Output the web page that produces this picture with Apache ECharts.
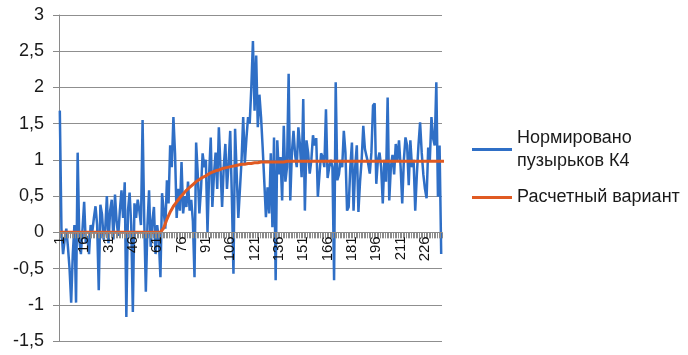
<!DOCTYPE html>
<html>
<head>
<meta charset="utf-8">
<script src="https://cdn.jsdelivr.net/npm/echarts@6/dist/echarts.min.js"></script>
<style>html,body{margin:0;padding:0;background:#fff;}#c{width:688px;height:355px;}</style>
</head>
<body>
<div id="c"></div>
<script>
var categoryCount = 236;
var categories = [];
for (var i = 1; i <= categoryCount; i++) categories.push(String(i));

var seriesNames = ['Нормировано пузырьков К4', 'Расчетный вариант'];

var measured = [
 1.68, 0.05, -0.3, -0.1, 0.05, -0.2, -0.5, -0.97, -0.3, 0.1,
 -0.97, 1.1, -0.1, -0.3, 0.05, 0.42, -0.15, -0.05, -0.3, 0.1,
 0.0, 0.2, 0.36, 0.1, -0.8, 0.38, 0.25, -0.1, 0.05, 0.5,
 -0.15, 0.3, 0.45, -0.1, 0.52, 0.15, -0.05, 0.3, 0.58, 0.2,
 0.69, -1.17, 0.3, 0.55, 0.1, -1.1, 0.4, 0.2, 0.45, 0.3,
 0.1, 1.55, 0.2, -0.82, 0.1, 0.58, -0.2, 0.15, 0.35, -0.3,
 0.1, -0.1, -0.62, 0.54, 0.3, 0.05, 0.72, 0.4, 1.2, 0.9,
 1.59, 1.09, 0.2, 0.6, 0.3, 0.97, 0.26, 0.5, 0.35, 0.7,
 0.3, 0.45, 0.15, -0.62, 1.24, 0.8, 0.26, 0.6, 1.09, 0.9,
 1.0, 0.0, 0.8, 1.31, 0.35, 0.8, 1.1, 0.6, 1.45, 0.9,
 0.35, 0.9, 1.22, 0.6, 0.95, 1.4, 0.5, -0.57, 1.43, 0.8,
 0.2, 0.6, 1.0, 1.59, 0.95, 1.3, 1.59, 1.5, 2.0, 2.64,
 1.68, 2.44, 1.45, 1.9, 1.59, 1.17, 0.7, 0.21, 0.62, 0.26,
 1.09, 0.07, 1.31, -0.66, 1.27, 0.8, 1.04, 0.44, 1.47, 0.7,
 0.9, 2.19, 0.44, 1.1, 1.4, 1.07, 0.9, 1.45, 1.2, 0.76,
 1.84, 0.3, 1.27, 1.1, 0.81, 1.0, 1.34, 1.2, 1.3, 0.49,
 0.8, 1.09, 1.04, 0.9, 1.7, 0.75, 0.9, 1.0, 0.9, -0.66,
 2.07, 0.72, 0.8, 1.0, 0.9, 1.4, 1.1, 0.3, 0.35, 0.9,
 1.24, 0.3, 0.9, 1.2, 0.28, 0.7, 1.0, 1.47, 1.15, 1.05,
 0.95, 0.81, 1.1, 1.75, 1.78, 0.67, 1.0, 1.1, 0.9, 0.4,
 1.0, 0.7, 1.86, 0.44, 0.9, 1.07, 0.8, 1.22, 1.0, 1.27,
 0.9, 0.4, 1.0, 1.31, 1.2, 0.65, 1.27, 0.9, 1.0, 0.3,
 0.8, 1.2, 1.52, 1.1, 0.8, 0.6, 0.47, 1.17, 1.0, 1.59,
 1.3, 1.2, 2.07, 0.49, 1.2, -0.3
];

var calculated = [
 0,0,0,0,0,0,0,0,0,0,
 0,0,0,0,0,0,0,0,0,0,
 0,0,0,0,0,0,0,0,0,0,
 0,0,0,0,0,0,0,0,0,0,
 0,0,0,0,0,0,0,0,0,0,
 0,0,0,0,0,0,0,0,0,0,
 0,0,0,0,0.06,0.12,0.18,0.23,0.28,0.32,
 0.36,0.39,0.42,0.45,0.48,0.50,0.53,0.55,0.58,0.60,
 0.62,0.64,0.66,0.68,0.70,0.71,0.73,0.74,0.76,0.77,
 0.78,0.80,0.81,0.82,0.83,0.84,0.85,0.86,0.86,0.87,
 0.88,0.88,0.89,0.90,0.90,0.91,0.91,0.92,0.92,0.93,
 0.93,0.93,0.94,0.94,0.94,0.95,0.95,0.95,0.95,0.96,
 0.96,0.96,0.96,0.96,0.97,0.97,0.97,0.97,0.97,0.97,
 0.97,0.97,0.97,0.97,0.97,0.97,0.97,0.97,0.97,0.97,
 0.98,0.98,0.98,0.98,0.98,0.98,0.98,0.98,0.98,0.98,
 0.98,0.98,0.98,0.98,0.98,0.98,0.98,0.98,0.98,0.98,
 0.98,0.98,0.98,0.98,0.98,0.98,0.98,0.98,0.98,0.98,
 0.98,0.98,0.98,0.98,0.98,0.98,0.98,0.98,0.98,0.98,
 0.98,0.98,0.98,0.98,0.98,0.98,0.98,0.98,0.98,0.98,
 0.98,0.98,0.98,0.98,0.98,0.98,0.98,0.98,0.98,0.98,
 0.98,0.98,0.98,0.98,0.98,0.98,0.98,0.98,0.98,0.98,
 0.98,0.98,0.98,0.98,0.98,0.98,0.98,0.98,0.98,0.98,
 0.98,0.98,0.98,0.98,0.98,0.98,0.98,0.98,0.98,0.98,
 0.98,0.98,0.98,0.98,0.98,0.98,0.98,0.98,0.98,0.98,
 0.98,0.98,0.98,0.98,0.98,0.98,0.98,0.98,0.98,0.98,
 0.98,0.98,0.98,0.98,0.98,0.98
];

var yTicks = { min: -1.5, max: 3, step: 0.5 };

var GRID = { left: 59, right: 246, top: 15, bottom: 14 };
var plotHeight = 355 - GRID.top - GRID.bottom;
var zeroOffset = -plotHeight * (0 - yTicks.min) / (yTicks.max - yTicks.min);

var FONT = '"Liberation Sans", Arial, sans-serif';
var chart = echarts.init(document.getElementById('c'), null, { renderer: 'canvas' });
chart.setOption({
  animation: false,
  backgroundColor: '#ffffff',
  grid: { left: GRID.left, right: GRID.right, top: GRID.top, bottom: GRID.bottom, containLabel: false, outerBoundsMode: 'none' },
  legend: [
    {
      orient: 'vertical', left: 467, top: 110,
      icon: 'rect', itemWidth: 40, itemHeight: 3, itemGap: 5,
      data: [{ name: seriesNames[0] }],
      formatter: function () { return 'Нормировано\nпузырьков К4'; },
      textStyle: { fontFamily: FONT, fontSize: 18, color: '#1a1a1a', lineHeight: 23, padding: [23, 0, 0, 0] }
    },
    {
      orient: 'vertical', left: 467, top: 181,
      icon: 'rect', itemWidth: 40, itemHeight: 3,
      data: [{ name: seriesNames[1] }],
      textStyle: { fontFamily: FONT, fontSize: 18, color: '#1a1a1a', lineHeight: 23 }
    }
  ],
  xAxis: {
    type: 'category',
    data: categories,
    boundaryGap: true,
    offset: zeroOffset,
    z: 5,
    axisLine: { onZero: false, lineStyle: { color: '#8a8a8a', width: 1 } },
    axisTick: { show: true, interval: 0, length: 6, lineStyle: { color: '#8a8a8a', width: 1 } },
    axisLabel: { interval: 14, rotate: 90, margin: 4, fontFamily: FONT, fontSize: 15, color: '#111' },
    splitLine: { show: false }
  },
  yAxis: {
    type: 'value',
    min: yTicks.min, max: yTicks.max, interval: yTicks.step,
    axisLine: { show: true, lineStyle: { color: '#8a8a8a', width: 1 } },
    axisTick: { show: true, length: 6, lineStyle: { color: '#8a8a8a' } },
    axisLabel: {
      margin: 15, fontFamily: FONT, fontSize: 18, color: '#1a1a1a',
      formatter: function (v) { return String(Math.round(v * 10) / 10).replace('.', ','); }
    },
    splitLine: { show: true, lineStyle: { color: '#8f8f8f', width: 1 } }
  },
  series: [
    {
      name: seriesNames[0], type: 'line', data: measured,
      symbol: 'none', showSymbol: false,
      lineStyle: { color: '#2f6fc6', width: 2.5 },
      itemStyle: { color: '#2f6fc6' }, z: 2
    },
    {
      name: seriesNames[1], type: 'line', data: calculated,
      symbol: 'none', showSymbol: false,
      lineStyle: { color: '#e05a22', width: 3 },
      itemStyle: { color: '#e05a22' }, z: 3
    }
  ]
});
</script>
</body>
</html>
